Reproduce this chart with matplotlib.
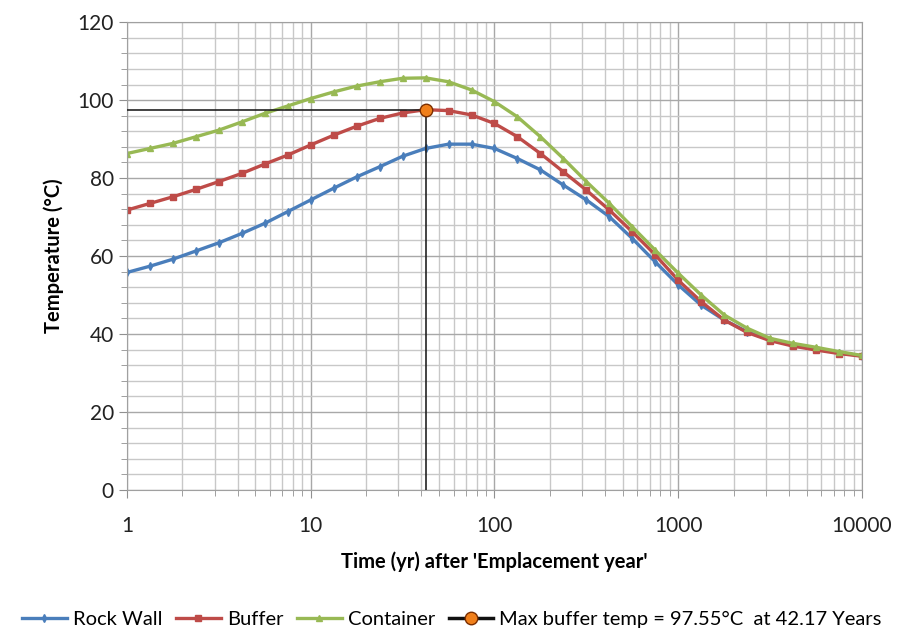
import numpy as np
import matplotlib
matplotlib.use("Agg")
import matplotlib.pyplot as plt
from matplotlib.ticker import FixedLocator, LogLocator, NullFormatter, MultipleLocator

plt.rcParams['font.family'] = ['Lato', 'DejaVu Sans']

# time points: 8 per decade, 1 .. 10000 years
time_yr = 10 ** (np.arange(33) / 8.0)

rock_wall = [55.8, 57.4, 59.2, 61.3, 63.4, 65.8, 68.4, 71.4, 74.4, 77.4, 80.3,
             82.9, 85.6, 87.6, 88.7, 88.7, 87.6, 85.0, 82.1, 78.2, 74.4, 70.1,
             64.5, 58.5, 52.6, 47.4, 43.6, 40.6, 38.5, 37.2, 36.1, 35.2, 34.4]
buffer_t = [71.8, 73.5, 75.2, 77.1, 79.1, 81.2, 83.6, 85.9, 88.5, 91.0, 93.3,
            95.3, 96.7, 97.55, 97.3, 96.2, 94.0, 90.6, 86.3, 81.6, 76.9, 71.8,
            66.2, 60.3, 53.8, 48.3, 43.6, 40.4, 38.3, 36.9, 35.9, 35.0, 34.3]
container = [86.3, 87.6, 88.9, 90.6, 92.3, 94.4, 96.6, 98.5, 100.4, 102.1, 103.6,
             104.7, 105.6, 105.7, 104.7, 102.6, 99.6, 95.7, 90.6, 85.0, 79.1, 73.5,
             67.5, 61.5, 55.6, 50.0, 44.9, 41.5, 38.9, 37.6, 36.6, 35.5, 34.5]

max_time = 42.17
max_temp = 97.55

fig = plt.figure(figsize=(9.04, 6.32), dpi=100)
ax = fig.add_axes([0.1405, 0.2247, 0.813, 0.7403])

ax.plot(time_yr, rock_wall, color='#4a7ebb', lw=2.4, marker='d', ms=4, label='Rock Wall')
ax.plot(time_yr, buffer_t, color='#be4b48', lw=2.4, marker='s', ms=5, label='Buffer')
ax.plot(time_yr, container, color='#98b954', lw=2.4, marker='^', ms=5, label='Container')
ax.plot([1, max_time, max_time], [max_temp, max_temp, 0], color='#222222', lw=1.2, zorder=4)
ax.plot([max_time], [max_temp], color='#111111', lw=2.5, marker='o', ms=9,
        mfc='#f07f1a', mec='#7a2e00', zorder=5,
        label='Max buffer temp = %.2f°C  at %.2f Years' % (max_temp, max_time))

ax.set_xscale('log')
ax.set_xlim(1, 10000)
ax.set_ylim(0, 120)
ax.xaxis.set_major_locator(FixedLocator([1, 10, 100, 1000, 10000]))
ax.set_xticklabels(['1', '10', '100', '1000', '10000'])
ax.xaxis.set_minor_locator(LogLocator(base=10, subs=np.arange(2, 10)))
ax.xaxis.set_minor_formatter(NullFormatter())
ax.yaxis.set_major_locator(MultipleLocator(20))
ax.yaxis.set_minor_locator(MultipleLocator(4))

ax.grid(True, which='major', color='#a8a8a8', lw=1.0)
ax.grid(True, which='minor', color='#c8c8c8', lw=1.0)
ax.set_axisbelow(True)

for s in ax.spines.values():
    s.set_color('#a0a0a0')
ax.tick_params(which='both', direction='out', color='#909090', labelsize=15, labelcolor='#222222')
ax.tick_params(which='major', length=6)
ax.tick_params(which='minor', length=4)
ax.tick_params(axis='x', pad=13)

ax.set_xlabel("Time (yr) after 'Emplacement year'", fontsize=14.5, fontweight='bold', labelpad=11)
ax.set_ylabel('Temperature (°C)', fontsize=14.5, fontweight='bold', labelpad=10)

fig.legend(loc='lower center', bbox_to_anchor=(0.5, -0.022), ncol=4, frameon=False,
           fontsize=14.5, handlelength=2.2, handletextpad=0.3, columnspacing=0.7)

fig.savefig('out.png', dpi=100)
